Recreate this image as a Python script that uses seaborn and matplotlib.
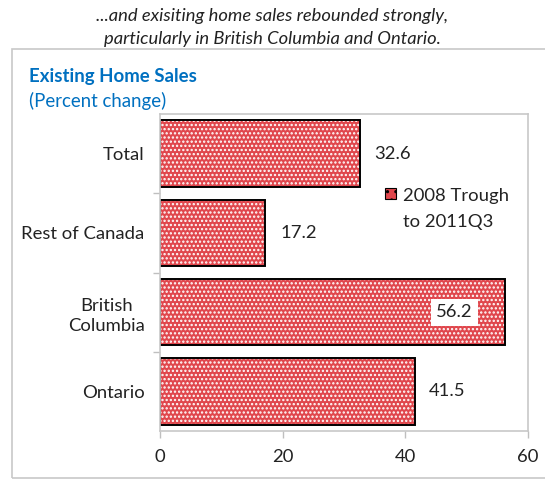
import matplotlib
matplotlib.use("Agg")
import matplotlib.pyplot as plt
import seaborn as sns
import pandas as pd
from matplotlib.patches import Rectangle, Patch
from matplotlib.ticker import FixedLocator

categories = ["Total", "Rest of Canada", "British\nColumbia", "Ontario"]
values = [32.6, 17.2, 56.2, 41.5]
series_name = "2008 Trough\nto 2011Q3"
xticks = [0, 20, 40, 60]

df = pd.DataFrame({"region": categories, "change": values})

sns.set_theme(style="white")
plt.rcParams["font.family"] = ["Lato", "DejaVu Sans"]
plt.rcParams["hatch.color"] = "#FFF4F4"
plt.rcParams["hatch.linewidth"] = 1.1

FS = 13.3
fig = plt.figure(figsize=(5.45, 4.79), dpi=100)
ax = fig.add_axes([160/545, (479-431)/479, (528-160)/545, (431-114)/479])

red = "#E0474D"
sns.barplot(data=df, y="region", x="change", orient="h", ax=ax, color=red,
            width=0.84, saturation=1, hatch="....", edgecolor="white", linewidth=0)
# outline layer
sns.barplot(data=df, y="region", x="change", orient="h", ax=ax, facecolor="none",
            width=0.84, saturation=1, edgecolor="black", linewidth=1.4)

ax.set_xlim(0, 60)
ax.set_ylim(3.5, -0.5)
ax.set_xticks(xticks)
ax.set_xticklabels([str(t) for t in xticks], fontsize=FS, color="#222222")
ax.set_xlabel("")
ax.set_ylabel("")
ax.set_yticks(range(len(categories)))
ax.set_yticklabels(categories, fontsize=FS, color="#222222", multialignment="center",
                   linespacing=1.3)
ax.yaxis.set_minor_locator(FixedLocator([0.5, 1.5, 2.5]))
ax.tick_params(axis="y", which="major", length=0, pad=11)
ax.tick_params(axis="y", which="minor", length=5, color="#BFBFBF", width=1, left=True)
ax.tick_params(axis="x", which="major", length=5, color="#BFBFBF", width=1, bottom=True, pad=8)
for s in ax.spines.values():
    s.set_color("#C8C8C8")
    s.set_linewidth(1.2)

# data labels
for i, v in enumerate(values):
    if v > 50:
        ax.text(48.0, i, f"{v:.1f}", ha="center", va="center", fontsize=FS, color="#222222",
                bbox=dict(facecolor="white", edgecolor="none", pad=4))
    else:
        ax.text(v + 2.4, i, f"{v:.1f}", ha="left", va="center", fontsize=FS, color="#222222")

# legend
h = Patch(facecolor=red, edgecolor="black", hatch="..", linewidth=0.8, label=series_name)
leg = ax.legend(handles=[h], loc="upper left", bbox_to_anchor=(0.59, 0.79), frameon=False,
                fontsize=FS, handlelength=0.6, handleheight=0.6, handletextpad=0.4,
                labelcolor="#222222", borderaxespad=0)
for t in leg.get_texts():
    t.set_linespacing(1.8)
# align the marker with the first line of the label
hp = leg.legend_handles[0]
hp.set_y(hp.get_y() + 11.3)

# outer frame
fig.patches.append(Rectangle((12/545, 1/479), 0.99, (478-48)/479 - 0.002, transform=fig.transFigure,
                             fill=False, edgecolor="#C8C8C8", linewidth=1.2))

fig.text(0.5, 1 - 16/479, "...and exisiting home sales rebounded strongly,", ha="center", va="center",
         fontsize=13.2, style="italic", color="#222222")
fig.text(0.5, 1 - 39/479, "particularly in British Columbia and Ontario.", ha="center", va="center",
         fontsize=13.2, style="italic", color="#222222")
fig.text(29/545, 1 - 76/479, "Existing Home Sales", ha="left", va="center", fontsize=13.4,
         fontweight="bold", color="#0070C0")
fig.text(29/545, 1 - 101/479, "(Percent change)", ha="left", va="center", fontsize=13.4,
         color="#0070C0")

fig.savefig("out.png", dpi=100)
